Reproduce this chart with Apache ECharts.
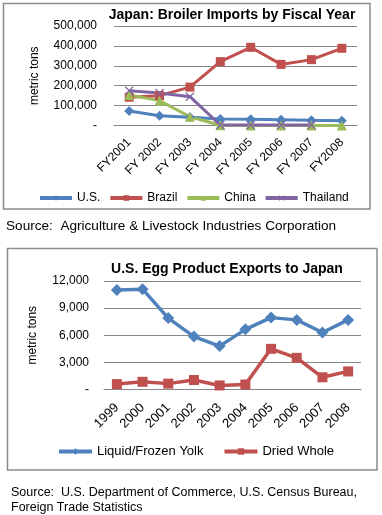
<!DOCTYPE html>
<html><head><meta charset="utf-8">
<script src="https://cdn.jsdelivr.net/npm/echarts@6/dist/echarts.min.js"></script>
<style>html,body{margin:0;padding:0;background:#fff}#c{width:382px;height:515px}</style>
</head><body><div id="c"></div>
<script>
// Chart 1: Japan broiler imports (metric tons)
const fiscalYears = ['FY2001','FY 2002','FY 2003','FY 2004','FY 2005','FY 2006','FY 2007','FY2008'];
const usImports = [73000, 49000, 41000, 33000, 31000, 29000, 26000, 24000];
const brazilImports = [142000, 150000, 193000, 321000, 393000, 307000, 331000, 388000];
const chinaImports = [153000, 125000, 44000, 1000, 500, 500, 500, 500];
const thailandImports = [175000, 163000, 145000, 2500, 2500, 2500, 2500, null];
const broilerTicks = [0, 100000, 200000, 300000, 400000, 500000];

// Chart 2: U.S. egg product exports to Japan (metric tons)
const eggYears = ['1999','2000','2001','2002','2003','2004','2005','2006','2007','2008'];
const liquidFrozenYolk = [11000, 11100, 7900, 5850, 4800, 6650, 7950, 7700, 6300, 7700];
const driedWhole = [600, 850, 650, 1050, 450, 550, 4500, 3500, 1350, 2000];
const eggTicks = [0, 3000, 6000, 9000, 12000];

const FONT = '"Liberation Sans", Arial, sans-serif';
const GRID = '#868686';
const fmt = v => v === 0 ? '-' : v.toLocaleString('en-US');
const xPath = 'path://M1,0L5,4L9,0L10,1L6,5L10,9L9,10L5,6L1,10L0,9L4,5L0,1Z';

const chart = echarts.init(document.getElementById('c'));
function lineSeries(name, data, color, symbol, size, xi, w) {
  return {
    name, type: 'line', data, xAxisIndex: xi, yAxisIndex: xi,
    symbol, symbolSize: size, showSymbol: true,
    lineStyle: {color, width: w}, itemStyle: {color},
    connectNulls: false, animation: false, z: 3
  };
}
chart.setOption({
  animation: false,
  textStyle: {fontFamily: FONT},
  title: [
    {text: 'Japan: Broiler Imports by Fiscal Year', left: 232, top: 8, textAlign: 'center', padding: 0,
     textStyle: {fontFamily: FONT, fontSize: 14, fontWeight: 'bold', color: '#000'}},
    {text: 'U.S. Egg Product Exports to Japan', left: 227, top: 262, textAlign: 'center', padding: 0,
     textStyle: {fontFamily: FONT, fontSize: 14, fontWeight: 'bold', color: '#000'}}
  ],
  legend: [
    {data: ['U.S.','Brazil','China','Thailand'], left: 38, top: 192, padding: 0, itemWidth: 32, itemHeight: 7, itemGap: 8,
     lineStyle: {width: 4},
     textStyle: {fontFamily: FONT, fontSize: 12, color: '#000'}},
    {data: ['Liquid/Frozen Yolk','Dried Whole'], left: 57, top: 445, padding: 0, itemWidth: 33, itemHeight: 8, itemGap: 19,
     lineStyle: {width: 4},
     textStyle: {fontFamily: FONT, fontSize: 13, color: '#000'}}
  ],
  grid: [
    {left: 114, right: 25, top: 26, height: 99.5},
    {left: 104, right: 21, top: 281, height: 108.5}
  ],
  xAxis: [
    {type: 'category', gridIndex: 0, data: fiscalYears, boundaryGap: true,
     axisLine: {lineStyle: {color: GRID, width: 1}}, axisTick: {show: false},
     axisLabel: {rotate: 45, margin: 15, fontFamily: FONT, fontSize: 12, color: '#000', interval: 0}},
    {type: 'category', gridIndex: 1, data: eggYears, boundaryGap: true,
     axisLine: {lineStyle: {color: GRID, width: 1}}, axisTick: {show: false},
     axisLabel: {rotate: 45, margin: 16, fontFamily: FONT, fontSize: 13, color: '#000', interval: 0}}
  ],
  yAxis: [
    {type: 'value', gridIndex: 0, min: broilerTicks[0], max: broilerTicks[broilerTicks.length-1], interval: 100000,
     name: 'metric tons', nameLocation: 'middle', nameGap: 73, nameRotate: 90,
     nameTextStyle: {fontFamily: FONT, fontSize: 12, color: '#000'},
     axisLine: {show: false}, axisTick: {show: false},
     splitLine: {lineStyle: {color: GRID, width: 1}},
     axisLabel: {formatter: fmt, margin: 17, fontFamily: FONT, fontSize: 12, color: '#000'}},
    {type: 'value', gridIndex: 1, min: eggTicks[0], max: eggTicks[eggTicks.length-1], interval: 3000,
     name: 'metric tons', nameLocation: 'middle', nameGap: 65, nameRotate: 90,
     nameTextStyle: {fontFamily: FONT, fontSize: 12, color: '#000'},
     axisLine: {show: false}, axisTick: {show: false},
     splitLine: {lineStyle: {color: GRID, width: 1}},
     axisLabel: {formatter: fmt, margin: 15, fontFamily: FONT, fontSize: 12, color: '#000'}}
  ],
  series: [
    lineSeries('U.S.', usImports, '#4F81BD', 'diamond', 10, 0, 3),
    lineSeries('Brazil', brazilImports, '#C0504D', 'rect', 9, 0, 3),
    lineSeries('China', chinaImports, '#9BBB59', 'triangle', 10, 0, 3),
    lineSeries('Thailand', thailandImports, '#8064A2', xPath, 9, 0, 3),
    lineSeries('Liquid/Frozen Yolk', liquidFrozenYolk, '#4F81BD', 'diamond', 12, 1, 3.5),
    lineSeries('Dried Whole', driedWhole, '#C0504D', 'rect', 10, 1, 3.5)
  ],
  graphic: [
    {type: 'rect', shape: {x: 3.5, y: 3.5, width: 366.5, height: 205.5}, style: {fill: null, stroke: '#8c8c8c', lineWidth: 1.5}, silent: true},
    {type: 'rect', shape: {x: 7.5, y: 248.5, width: 369.5, height: 221.5}, style: {fill: null, stroke: '#8c8c8c', lineWidth: 1.5}, silent: true},
    {type: 'text', left: 6, top: 219, style: {text: 'Source:  Agriculture & Livestock Industries Corporation', font: '13.6px ' + FONT, fill: '#000'}},
    {type: 'text', left: 11, top: 485, style: {text: 'Source:  U.S. Department of Commerce, U.S. Census Bureau,\nForeign Trade Statistics', font: '12.5px ' + FONT, fill: '#000', lineHeight: 15}}
  ]
});
</script></body></html>
